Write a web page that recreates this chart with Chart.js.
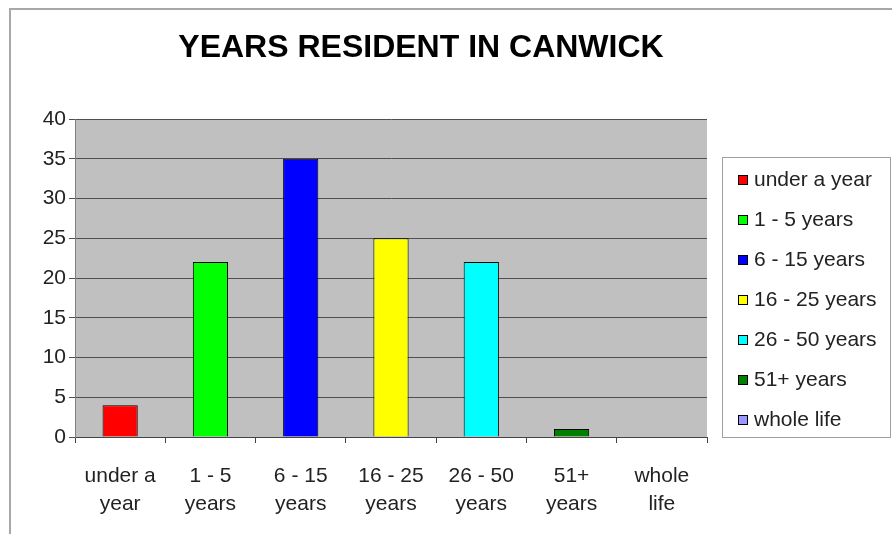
<!DOCTYPE html>
<html>
<head>
<meta charset="utf-8">
<title>Years resident in Canwick</title>
<script src="https://cdn.jsdelivr.net/npm/chart.js@4/dist/chart.umd.min.js"></script>
<style>
  html, body { margin: 0; padding: 0; background: #fff; }
  #wrap { width: 892px; height: 534px; }
</style>
</head>
<body>
<div id="wrap"><canvas id="residentChart" width="892" height="534"></canvas></div>
<script>
const categories = ['under a year', '1 - 5 years', '6 - 15 years', '16 - 25 years', '26 - 50 years', '51+ years', 'whole life'];
const residents = [4, 22, 35, 25, 22, 1, 0];
const barColors = ['#ff0000', '#00ff00', '#0000ff', '#ffff00', '#00ffff', '#008000', '#9999ff'];
const yTicks = [0, 5, 10, 15, 20, 25, 30, 35, 40];

const FONT = '"Liberation Sans", Arial, sans-serif';

// white page, thin frame, grey plot background
const backdrop = {
    id: 'backdrop',
    beforeDraw(chart) {
        const {ctx, chartArea: a} = chart;
        ctx.save();
        ctx.fillStyle = '#fff';
        ctx.fillRect(0, 0, chart.width, chart.height);
        ctx.strokeStyle = '#a8a8a8';
        ctx.lineWidth = 2;
        ctx.beginPath();
        ctx.moveTo(10, chart.height);
        ctx.lineTo(10, 9);
        ctx.lineTo(chart.width, 9);
        ctx.stroke();
        ctx.fillStyle = '#c0c0c0';
        ctx.fillRect(a.left, a.top, a.right - a.left, a.bottom - a.top);
        ctx.restore();
    }
};

// title and boxed legend on the right
const decorations = {
    id: 'decorations',
    afterDraw(chart) {
        const ctx = chart.ctx;
        ctx.save();
        ctx.fillStyle = '#000';
        ctx.font = 'bold 32px ' + FONT;
        ctx.textAlign = 'center';
        ctx.textBaseline = 'alphabetic';
        ctx.fillText('YEARS RESIDENT IN CANWICK', 421, 57);

        ctx.strokeStyle = '#a0a0a0';
        ctx.lineWidth = 1;
        ctx.strokeRect(722.5, 157.5, 168, 280);

        ctx.font = '21px ' + FONT;
        ctx.textAlign = 'left';
        ctx.textBaseline = 'middle';
        categories.forEach((name, i) => {
            const y = 180 + i * 40;
            ctx.fillStyle = barColors[i];
            ctx.fillRect(738, y - 5, 10, 10);
            ctx.strokeStyle = '#000';
            ctx.strokeRect(738.5, y - 4.5, 9, 9);
            ctx.fillStyle = '#222';
            ctx.fillText(name, 754, y);
        });
        ctx.restore();
    }
};

new Chart(document.getElementById('residentChart'), {
    type: 'bar',
    data: {
        labels: categories,
        datasets: [{
            data: residents,
            backgroundColor: barColors,
            borderColor: '#000',
            borderWidth: 1,
            categoryPercentage: 1,
            barPercentage: 0.39
        }]
    },
    options: {
        responsive: false,
        animation: false,
        devicePixelRatio: 1,
        layout: {padding: {top: 119, left: 8, right: 185, bottom: 0}},
        plugins: {
            legend: {display: false},
            title: {display: false},
            tooltip: {enabled: false}
        },
        scales: {
            x: {
                grid: {offset: true, drawOnChartArea: false, drawTicks: true, tickLength: 6, color: '#444'},
                border: {color: '#444'},
                ticks: {
                    color: '#222',
                    font: {family: FONT, size: 21, lineHeight: 1.35},
                    padding: 19,
                    maxRotation: 0,
                    autoSkip: false,
                    // split the last word onto a second line
                    callback: function (value) {
                        const name = this.getLabelForValue(value);
                        const cut = name.lastIndexOf(' ');
                        return [name.slice(0, cut), name.slice(cut + 1)];
                    }
                },
                afterFit: scale => { scale.height = 97; }
            },
            y: {
                min: 0,
                max: 40,
                afterBuildTicks: scale => { scale.ticks = yTicks.map(v => ({value: v})); },
                grid: {color: '#505050', tickLength: 6},
                border: {color: '#808080'},
                ticks: {color: '#222', font: {family: FONT, size: 21}, padding: 3},
                afterFit: scale => { scale.width = 67; }
            }
        }
    },
    plugins: [backdrop, decorations]
});
</script>
</body>
</html>
